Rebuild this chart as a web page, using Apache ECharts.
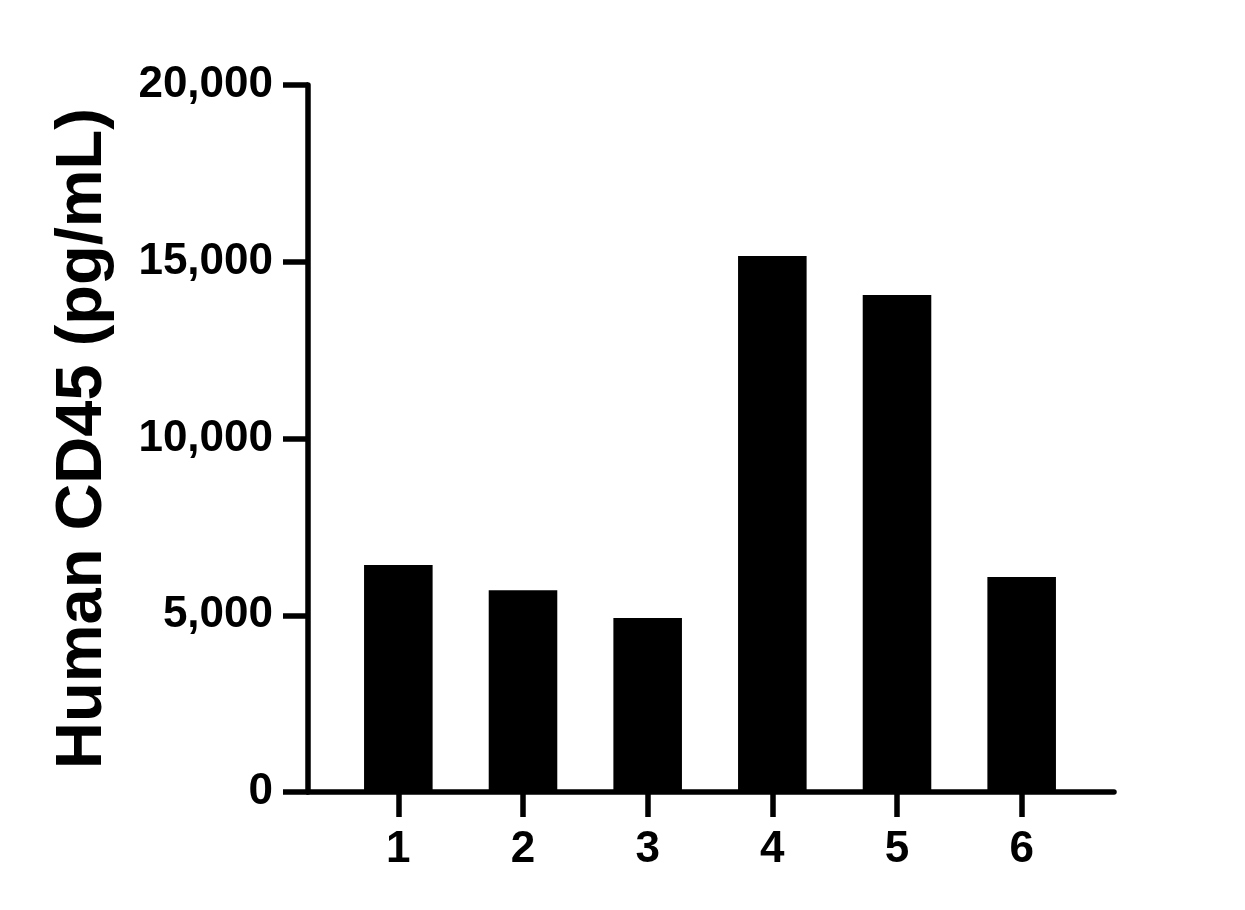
<!DOCTYPE html>
<html>
<head>
<meta charset="utf-8">
<script src="https://cdn.jsdelivr.net/npm/echarts@6/dist/echarts.min.js"></script>
<style>html,body{margin:0;padding:0;background:#fff;}#c{width:1245px;height:910px;}</style>
</head>
<body>
<div id="c"></div>
<script>
var categories = ['1', '2', '3', '4', '5', '6'];
var values = [6420, 5710, 4920, 15160, 14060, 6080];
var yTicks = [0, 5000, 10000, 15000, 20000];
var yTitle = 'Human CD45 (pg/mL)';

var FONT = '"Liberation Sans", Arial, Helvetica, sans-serif';
var chart = echarts.init(document.getElementById('c'), null, {renderer: 'canvas'});
chart.setOption({
  animation: false,
  backgroundColor: '#fff',
  grid: [
    {left: 336, right: 161, top: 85, bottom: 118},
    {left: 308, right: 131, top: 85, bottom: 118}
  ],
  xAxis: [
    {
      type: 'category', gridIndex: 0, data: categories,
      axisLine: {show: false},
      axisTick: {show: true, alignWithLabel: true, length: 25, lineStyle: {color: '#000', width: 5.5}},
      axisLabel: {color: '#000', fontFamily: FONT, fontWeight: 'bold', fontSize: 44, margin: 36}
    },
    {
      type: 'value', gridIndex: 1, min: 0, max: 1,
      axisLine: {show: true, lineStyle: {color: '#000', width: 5.5}},
      axisTick: {show: false}, axisLabel: {show: false}, splitLine: {show: false}
    }
  ],
  yAxis: [
    {
      type: 'value', gridIndex: 0, min: yTicks[0], max: yTicks[yTicks.length - 1],
      show: false, splitLine: {show: false}
    },
    {
      type: 'value', gridIndex: 1, min: yTicks[0], max: yTicks[yTicks.length - 1], interval: 5000,
      axisLine: {show: true, lineStyle: {color: '#000', width: 5.5}},
      axisTick: {show: true, length: 25, lineStyle: {color: '#000', width: 5.5}},
      splitLine: {show: false},
      axisLabel: {
        color: '#000', fontFamily: FONT, fontWeight: 'bold', fontSize: 44, margin: 35,
        formatter: function (v) { return v.toLocaleString('en-US'); }
      },
      name: yTitle, nameLocation: 'middle', nameGap: 192,
      nameTextStyle: {color: '#000', fontFamily: FONT, fontWeight: 'bold', fontSize: 65}
    }
  ],
  series: [{
    type: 'bar', xAxisIndex: 0, yAxisIndex: 0, data: values,
    barWidth: '55%', itemStyle: {color: '#000'}
  }]
});
</script>
</body>
</html>
